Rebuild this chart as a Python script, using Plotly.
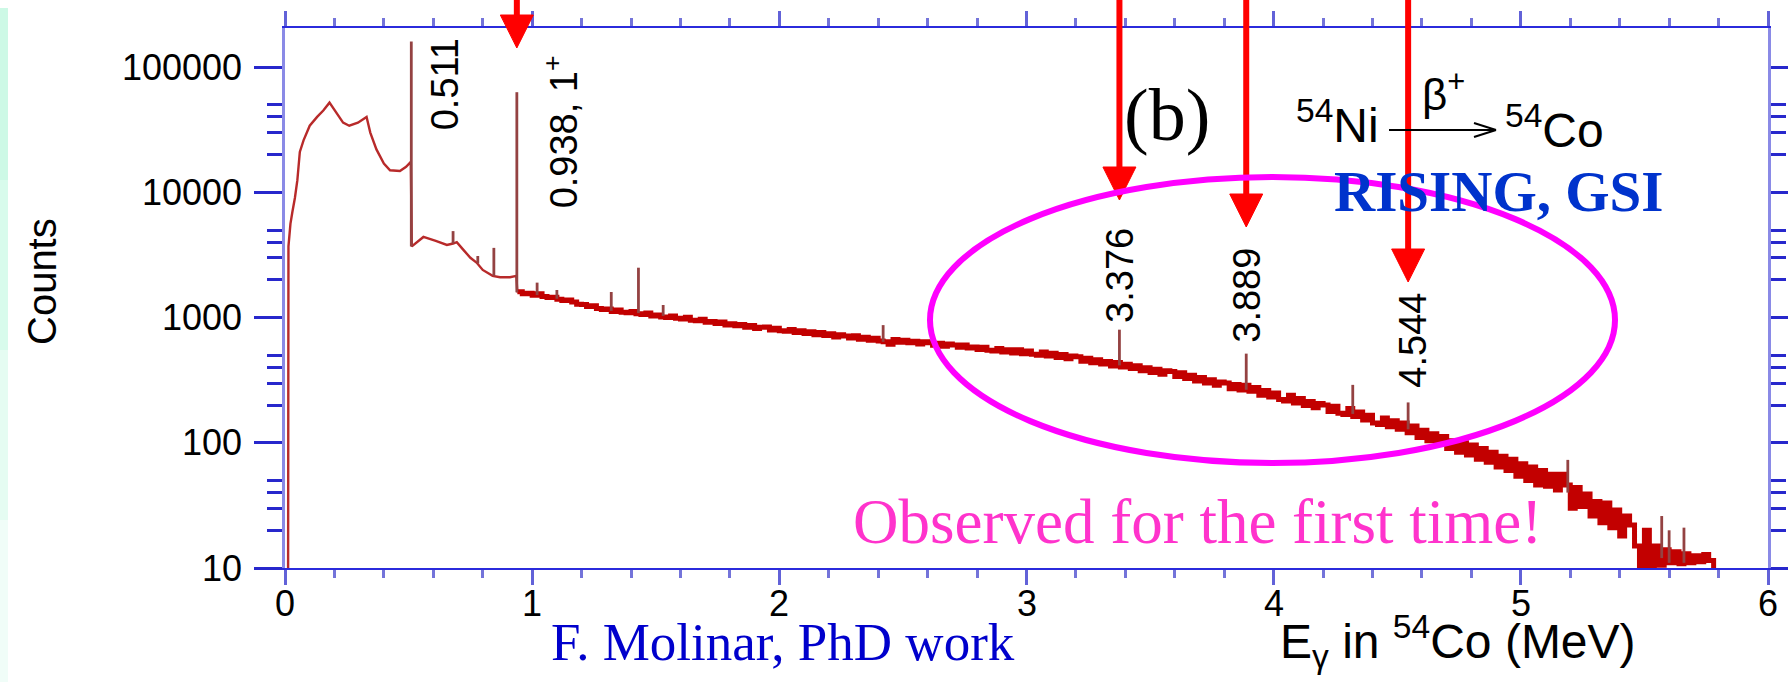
import math
import plotly.graph_objects as go

# ---------------------------------------------------------------
# Gamma spectrum following the 54Ni -> 54Co beta+ decay
# ---------------------------------------------------------------

# low-energy part of the spectrum (up to the 0.938 MeV line)
low_energy = [0.0, 0.012, 0.014, 0.022, 0.03, 0.04, 0.05, 0.06, 0.075, 0.10, 0.13, 0.155, 0.18,
              0.21, 0.235, 0.26, 0.295, 0.33, 0.345, 0.37, 0.40, 0.425, 0.465, 0.49, 0.509,
              0.513, 0.56, 0.61, 0.655, 0.68, 0.695, 0.72, 0.75, 0.775, 0.80, 0.84, 0.87,
              0.91, 0.936, 0.94]
low_counts = [1, 1, 3700, 5600, 7000, 9000, 12500, 21000, 26000, 34000, 40000, 45000, 52000,
              42000, 36000, 34000, 36000, 40000, 30000, 22000, 17000, 15000, 14800, 16000, 17500,
              3700, 4400, 4100, 3800, 3900, 4000, 3500, 3000, 2750, 2400, 2150, 2100,
              2100, 2150, 1590]

# binned high-energy part, from 0.94 MeV in 0.02 MeV bins
continuum_start = 0.94
bin_width = 0.02
continuum_counts = [
    1610, 1552, 1562, 1505, 1548, 1470, 1446, 1452, 1398, 1368,   # 0.94 - 1.12
    1380, 1330, 1276, 1270, 1224, 1240, 1180, 1160, 1172, 1118,   # 1.14 - 1.32
    1150, 1104, 1090, 1118, 1070, 1058, 1088, 1030, 1046, 1008,   # 1.34 - 1.52
    1000, 1030, 985, 975, 1004, 950, 942, 968, 918, 930,          # 1.54 - 1.72
    898, 920, 872, 890, 858, 878, 838, 862, 818, 836,             # 1.74 - 1.92
    840, 795, 820, 784, 776, 804, 758, 786, 746, 770,             # 1.94 - 2.12
    730, 760, 718, 742, 700, 728, 712, 688, 716, 670,             # 2.14 - 2.32
    696, 660, 684, 650, 640, 612, 668, 636, 660, 628,             # 2.34 - 2.52
    648, 614, 640, 628, 600, 622, 590, 614, 604, 578,             # 2.54 - 2.72
    604, 570, 582, 555, 580, 548, 540, 566, 530, 552,             # 2.74 - 2.92
    520, 552, 514, 540, 508, 500, 530, 494, 518, 480,             # 2.94 - 3.12
    506, 468, 492, 486, 448, 474, 436, 460, 426, 446,             # 3.14 - 3.32
    410, 438, 402, 424, 392, 412, 376, 398, 364, 386,             # 3.34 - 3.52
    352, 376, 370, 338, 362, 326, 346, 312, 332, 300,             # 3.54 - 3.72
    318, 288, 306, 300, 270, 292, 264, 288, 258, 276,             # 3.74 - 3.92
    240, 262, 232, 250, 222, 216, 240, 208, 226, 198,             # 3.94 - 4.12
    214, 190, 206, 200, 178, 196, 172, 168, 188, 162,             # 4.14 - 4.32
    176, 152, 166, 144, 140, 158, 134, 150, 128, 144,             # 4.34 - 4.52
    120, 136, 110, 126, 104, 118, 98, 112, 90, 104,               # 4.54 - 4.72
    84, 100, 80, 96, 74, 90, 70, 84, 64, 78,                      # 4.74 - 4.92
    60, 74, 54, 68, 50, 64, 46, 60, 45, 56,                       # 4.94 - 5.12
    42, 56, 46, 30, 44, 31, 39, 26, 34, 23,                       # 5.14 - 5.32
    33, 21, 29, 18, 26, 22, 15, 9, 20, 9.5,                       # 5.34 - 5.52
    15, 10.5, 14, 11, 13.5, 10.8, 13, 11, 12.5, 11.2, 12.8, 11.5, # 5.54 - 5.76
    1,                                                            # end of spectrum
]

# identified gamma lines (MeV), with the counts at the foot and top of each line
line_energy = [0.511, 0.938, 3.376, 3.889, 4.544]
line_spin = ["", "1<sup>+</sup>", "", "", ""]
line_base = [3700, 1590, 415, 265, 128]
line_top = [160000, 63000, 800, 515, 210]

# weaker, unlabelled lines
weak_energy = [0.68, 0.78, 0.845, 1.02, 1.10, 1.32, 1.43, 1.53, 2.42, 4.32, 5.19, 5.57, 5.60, 5.66]
weak_base = [3900, 2700, 2150, 1510, 1413, 1130, 1085, 1030, 640, 170, 40, 12, 11, 11]
weak_top = [4900, 3100, 3600, 1900, 1660, 1600, 2500, 1260, 870, 290, 73, 26, 20, 21]

# axis ticks
x_tick_values = [0, 1, 2, 3, 4, 5, 6]
y_tick_values = [10, 100, 1000, 10000, 100000]
y_tick_text = ["10", "100", "1000", "10000", "100000"]
y_minor_values = [20, 30, 40, 50, 200, 300, 400, 500,
                  2000, 3000, 4000, 5000, 20000, 30000, 40000, 50000]

# ---------------------------------------------------------------
# page geometry and styles
# ---------------------------------------------------------------
W, H = 1788, 682
ML, MR, MT, MB = 285, 20, 28, 114
PW, PH = W - ML - MR, H - MT - MB
MEV_PER_PX = 6.0 / PW

SANS = "Liberation Sans, Arial, Helvetica, sans-serif"
SERIF = "Liberation Serif, Times New Roman, serif"


def px(xp):
    """horizontal page pixel -> paper fraction"""
    return (xp - ML) / PW


def py(yp):
    """vertical page pixel (from top) -> paper fraction"""
    return (H - MB - yp) / PH


fig = go.Figure()

# spectrum below 0.94 MeV
fig.add_trace(go.Scatter(
    x=low_energy, y=low_counts, mode="lines",
    line=dict(color="#b82a2a", width=2.4), hoverinfo="skip"))

# binned spectrum above 0.94 MeV
continuum_energy = [round(continuum_start + i * bin_width, 3) for i in range(len(continuum_counts))]
fig.add_trace(go.Scatter(
    x=continuum_energy, y=continuum_counts, mode="lines",
    line=dict(color="#c20000", width=5, shape="hv"), hoverinfo="skip"))

# gamma lines as narrow spikes
spike_x, spike_y = [], []
for e, b, t in zip(line_energy + weak_energy, line_base + weak_base, line_top + weak_top):
    spike_x += [e, e, None]
    spike_y += [b, t, None]
fig.add_trace(go.Scatter(
    x=spike_x, y=spike_y, mode="lines",
    line=dict(color="#944242", width=2.8), hoverinfo="skip"))

shapes = []
annotations = []

# mint strip along the left page edge
strip_bands = [(8, 180, "#cdf9e6"), (180, 350, "#d8fbec"), (350, 520, "#e5fcf2"), (520, 682, "#f0fdf8")]
for y0, y1, c in strip_bands:
    shapes.append(dict(type="rect", xref="paper", yref="paper",
                       x0=px(0), x1=px(8), y0=py(y1), y1=py(y0),
                       fillcolor=c, line=dict(width=0), layer="below"))

# tick labels
for v in x_tick_values:
    annotations.append(dict(text=str(v), x=v, xref="x", y=py(603), yref="paper",
                            xanchor="center", yanchor="middle",
                            font=dict(family=SANS, size=36, color="black")))
for v, t in zip(y_tick_values, y_tick_text):
    annotations.append(dict(text=t, x=px(244), xref="paper", y=math.log10(v), yref="y",
                            xanchor="right", yanchor="middle",
                            font=dict(family=SANS, size=36, color="black")))

# line labels, rotated, next to / above each line
label_bottom_px = [132, 210, 325, 345, 390]
label_xshift = [34, 44, 0, 0, 4]
for e, spin, yb, xs in zip(line_energy, line_spin, label_bottom_px, label_xshift):
    text = f"{e:.3f}" + (f", {spin}" if spin else "")
    annotations.append(dict(
        text=text, x=e, xref="x", xshift=xs, y=py(yb), yref="paper",
        xanchor="center", yanchor="bottom", textangle=-90,
        font=dict(family=SANS, size=38, color="black")))

# red arrows pointing down at the lines
arrow_tip_px = [None, 48, 200, 227, 282]
head_len_px, head_half_px = 33, 16.5
for e, tip in zip(line_energy, arrow_tip_px):
    if tip is None:
        continue
    hw = head_half_px * MEV_PER_PX
    shapes.append(dict(type="line", xref="x", yref="paper",
                       x0=e, x1=e, y0=py(-5), y1=py(tip - head_len_px + 2),
                       line=dict(color="#ff0000", width=6)))
    shapes.append(dict(type="path", xref="x", yref="paper",
                       path=(f"M {e - hw},{py(tip - head_len_px)} L {e + hw},{py(tip - head_len_px)} "
                             f"L {e},{py(tip)} Z"),
                       fillcolor="#ff0000", line=dict(color="#ff0000", width=1)))

# magenta ellipse around the new lines
shapes.append(dict(type="circle", xref="paper", yref="paper",
                   x0=px(930), x1=px(1615), y0=py(463), y1=py(177),
                   line=dict(color="#ff00ff", width=6)))

# decay arrow in the reaction label
shapes.append(dict(type="line", xref="paper", yref="paper",
                   x0=px(1389), x1=px(1496), y0=py(130), y1=py(130),
                   line=dict(color="black", width=2)))
for dy in (-7, 7):
    shapes.append(dict(type="line", xref="paper", yref="paper",
                       x0=px(1474), x1=px(1496), y0=py(130 + dy), y1=py(130),
                       line=dict(color="black", width=2)))

annotations += [
    dict(text="<sup>54</sup>Ni", x=px(1381), y=py(154), xanchor="right", yanchor="bottom",
         font=dict(family=SANS, size=48, color="black")),
    dict(text="\u03b2<sup>+</sup>", x=px(1443), y=py(121), xanchor="center", yanchor="bottom",
         font=dict(family=SANS, size=44, color="black")),
    dict(text="<sup>54</sup>Co", x=px(1503), y=py(159), xanchor="left", yanchor="bottom",
         font=dict(family=SANS, size=48, color="black")),
    dict(text="(b)", x=px(1167), y=py(158), xanchor="center", yanchor="bottom",
         font=dict(family=SERIF, size=74, color="black")),
    dict(text="<b>RISING, GSI</b>", x=px(1498), y=py(225), xanchor="center", yanchor="bottom",
         font=dict(family=SERIF, size=57, color="#0033cc")),
    dict(text="Observed for the first time!", x=px(1197), y=py(559), xanchor="center", yanchor="bottom",
         font=dict(family=SERIF, size=63, color="#ff33cc")),
    dict(text="F. Molinar, PhD work", x=px(783), y=py(673), xanchor="center", yanchor="bottom",
         font=dict(family=SERIF, size=53, color="#0000cc")),
    dict(text="E<sub>\u03b3</sub> in <sup>54</sup>Co (MeV)", x=px(1458), y=py(677),
         xanchor="center", yanchor="bottom",
         font=dict(family=SANS, size=48, color="black")),
    dict(text="Counts", x=px(42), y=py(282), xanchor="center", yanchor="middle", textangle=-90,
         font=dict(family=SANS, size=40, color="black")),
]
for a in annotations:
    a.setdefault("xref", "paper")
    a.setdefault("yref", "paper")
    a.setdefault("showarrow", False)

fig.update_xaxes(
    range=[0, 6], tickmode="array", tickvals=x_tick_values, showticklabels=False,
    showline=True, linecolor="#2b2bdc", linewidth=2, mirror="ticks",
    ticks="outside", ticklen=15, tickwidth=3, tickcolor="#6262d8",
    minor=dict(tickmode="linear", tick0=0, dtick=0.2, ticks="outside",
               ticklen=8, tickwidth=3, tickcolor="#7474da"),
    showgrid=False, zeroline=False)

fig.update_yaxes(
    type="log", range=[1, 5.312], tickmode="array", tickvals=y_tick_values, showticklabels=False,
    showline=True, linecolor="#8a8ae6", linewidth=3, mirror="ticks",
    ticks="outside", ticklen=28, tickwidth=2.5, tickcolor="#2828cc",
    minor=dict(tickmode="array", tickvals=y_minor_values, ticks="outside",
               ticklen=15, tickwidth=2.5, tickcolor="#2828cc"),
    showgrid=False, zeroline=False)

fig.update_layout(
    template="none", width=W, height=H, autosize=False,
    margin=dict(l=ML, r=MR, t=MT, b=MB, autoexpand=False),
    paper_bgcolor="white", plot_bgcolor="white", showlegend=False,
    shapes=shapes, annotations=annotations)

fig.write_html("out.html", config={"displayModeBar": False})
